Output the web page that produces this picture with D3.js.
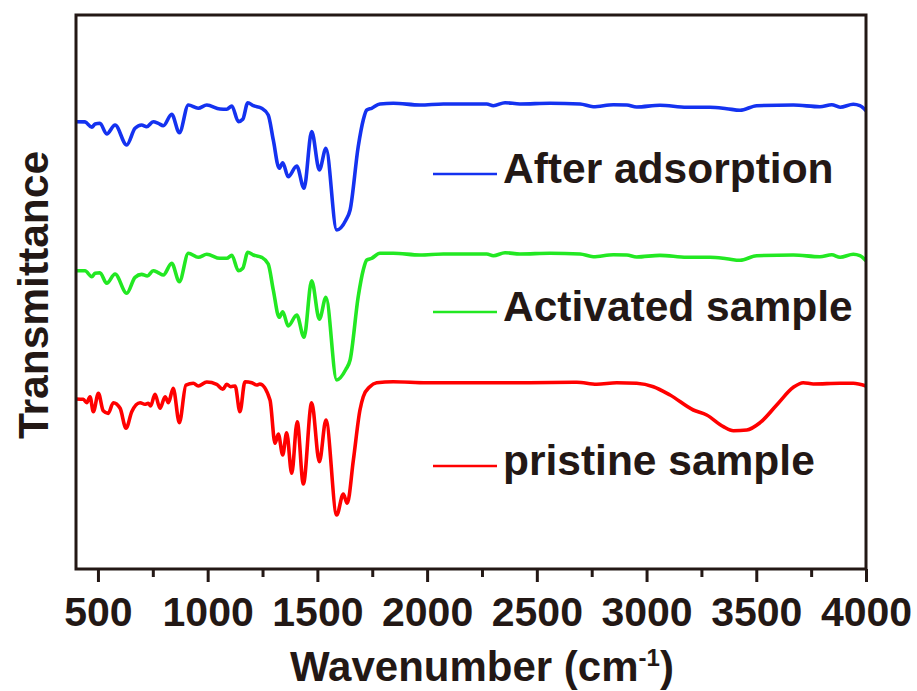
<html>
<meta name="viewport" content="width=device-width, initial-scale=1">
<head>
<script src="https://d3js.org/d3.v7.js"></script>
<style>
  body { margin: 0; background: #fff; }
  text { font-family: "Liberation Sans", Arial, sans-serif; font-weight: bold; fill: #231815; }
</style>
</head>
<body>
<svg width="917" height="691"></svg>
<script>
// wavenumber / transmittance pairs
var afterAdsorption = [
  [400,80.74],[441,80.7],[472,79.73],[487,80.32],[509,80.45],[540,78.52],[578,80.14],[631,76.53],
  [669,79.55],[699,80.14],[722,79.84],[752,80.74],[775,80.45],[798,80.02],[836,82.08],[871,78.75],
  [912,83.75],[957,83.16],[996,83.75],[1056,83.03],[1087,82.98],[1110,83.57],[1140,80.74],[1160,81.17],
  [1183,84.17],[1208,83.63],[1246,83.16],[1276,81.95],[1299,77.44],[1326,72.33],[1342,73.34],[1367,70.81],
  [1406,72.74],[1439,68.72],[1474,78.94],[1509,72.02],[1539,75.94],[1588,61.19],[1630,63.0],[1649,64.8],
  [1686,76.23],[1709,81.05],[1725,82.85],[1747,83.16],[1785,83.94],[1846,84.06],[1968,83.75],[2074,83.94],
  [2272,83.94],[2302,83.63],[2355,84.17],[2423,83.94],[2560,84.06],[2697,83.94],[2757,83.45],[2849,83.81],
  [2910,83.75],[2955,83.39],[3061,83.70],[3183,83.34],[3289,83.34],[3365,83.09],[3426,82.80],[3502,83.63],
  [3669,83.75],[3790,83.45],[3844,83.81],[3882,83.34],[3942,83.88],[3972,83.63],[4000,82.73]
];
var activated = [
  [400,53.84],[441,53.84],[472,52.76],[487,53.38],[509,53.48],[540,51.57],[578,53.25],[631,49.77],
  [669,52.65],[699,53.19],[725,52.89],[752,53.84],[775,53.48],[798,53.07],[836,55.18],[871,51.86],
  [912,56.99],[957,56.26],[996,56.81],[1056,56.08],[1087,56.08],[1110,56.62],[1140,53.84],[1160,54.28],
  [1183,57.17],[1208,56.68],[1246,56.26],[1276,55.05],[1299,50.36],[1326,45.43],[1342,46.44],[1367,43.86],
  [1406,45.85],[1439,41.82],[1474,52.04],[1509,45.07],[1539,49.04],[1588,34.12],[1630,36.05],[1649,37.73],
  [1686,49.15],[1709,53.97],[1725,55.78],[1747,56.08],[1785,56.99],[1846,56.99],[1968,56.68],[2074,56.86],
  [2272,56.86],[2302,56.55],[2355,57.09],[2423,56.86],[2560,56.99],[2697,56.86],[2757,56.37],[2849,56.73],
  [2910,56.68],[2955,56.32],[3061,56.62],[3183,56.26],[3289,56.26],[3365,56.01],[3426,55.72],[3502,56.55],
  [3669,56.68],[3790,56.37],[3844,56.73],[3882,56.26],[3942,56.81],[3972,56.55],[4000,55.65]
];
var pristine = [
  [400,30.69],[433,30.63],[449,30.02],[464,31.10],[479,28.39],[502,31.71],[524,28.57],[547,28.10],
  [570,30.02],[601,29.01],[628,25.40],[654,28.39],[692,30.02],[714,29.73],[729,29.91],[740,29.42],
  [760,31.53],[783,29.01],[806,31.10],[821,30.02],[843,32.62],[871,26.41],[901,33.21],[935,33.52],
  [957,33.03],[996,33.75],[1041,33.34],[1069,32.44],[1087,33.34],[1105,32.91],[1125,33.03],[1147,28.39],
  [1170,33.81],[1201,33.63],[1223,33.21],[1238,33.39],[1284,30.51],[1307,22.69],[1322,24.37],[1342,20.58],
  [1360,24.60],[1383,17.27],[1408,26.59],[1436,15.34],[1474,30.02],[1509,19.37],[1539,26.90],[1588,9.75],
  [1618,13.54],[1636,11.86],[1664,19.68],[1694,28.70],[1709,31.10],[1739,32.91],[1770,33.63],[1846,33.81],
  [1998,33.63],[2241,33.63],[2454,33.63],[2682,33.70],[2773,33.34],[2864,33.63],[2955,33.52],[3031,32.91],
  [3107,31.41],[3213,28.70],[3274,27.80],[3350,25.69],[3396,24.96],[3457,25.09],[3517,26.41],[3593,29.60],
  [3669,32.80],[3714,33.63],[3760,33.39],[3882,33.52],[3942,33.52],[4000,33.03]
];

var seriesNames = ["After adsorption", "Activated sample", "pristine sample"];
var seriesColors = ["#1432f0", "#22e822", "#ff0000"];
var legendY = [71.3, 46.4, 18.6];   // legend rows, in transmittance units
var majorTicks = [500, 1000, 1500, 2000, 2500, 3000, 3500, 4000];
var minorTicks = [750, 1250, 1750, 2250, 2750, 3250, 3750];

var svg = d3.select("svg");
var mLeft = 76, mTop = 15, w = 790, h = 554;
var g = svg.append("g").attr("transform", "translate(" + mLeft + "," + mTop + ")");

var x = d3.scaleLinear().domain([400, 4000]).range([0, w]);
var y = d3.scaleLinear().domain([0, 100]).range([h, 0]);

var line = d3.line()
  .x(function(d) { return x(d[0]); })
  .y(function(d) { return y(d[1]); })
  .curve(d3.curveMonotoneX);

var allSeries = [afterAdsorption, activated, pristine];
allSeries.forEach(function(s, i) {
  g.append("path")
    .datum(s)
    .attr("d", line)
    .attr("fill", "none")
    .attr("stroke", seriesColors[i])
    .attr("stroke-width", 3.6)
    .attr("stroke-linejoin", "round");
});

// legend
seriesNames.forEach(function(name, i) {
  g.append("line")
    .attr("x1", 357).attr("x2", 421)
    .attr("y1", y(legendY[i])).attr("y2", y(legendY[i]))
    .attr("stroke", seriesColors[i])
    .attr("stroke-width", 2.5);
  g.append("text")
    .attr("x", 427)
    .attr("y", y(legendY[i]) + 9)
    .style("font-size", "42.5px")
    .text(name);
});

// frame
g.append("rect")
  .attr("width", w).attr("height", h)
  .attr("fill", "none")
  .attr("stroke", "#231815")
  .attr("stroke-width", 3);

// bottom axis
var xAxis = g.append("g")
  .attr("transform", "translate(0," + h + ")")
  .call(d3.axisBottom(x).tickValues(majorTicks).tickSize(13).tickPadding(15).tickFormat(d3.format("d")));
xAxis.select(".domain").remove();
xAxis.selectAll("line").attr("stroke", "#231815").attr("stroke-width", 3);
xAxis.selectAll("text").style("font-size", "41px").attr("fill", "#231815");

var xMinor = g.append("g")
  .attr("transform", "translate(0," + h + ")")
  .call(d3.axisBottom(x).tickValues(minorTicks).tickSize(8).tickFormat(""));
xMinor.select(".domain").remove();
xMinor.selectAll("line").attr("stroke", "#231815").attr("stroke-width", 3);

// axis titles
var xt = svg.append("text")
  .attr("x", 290).attr("y", 681)
  .style("font-size", "42px");
xt.append("tspan").text("Wavenumber (cm");
xt.append("tspan").attr("dy", -15).style("font-size", "24px").text("-1");
xt.append("tspan").attr("dy", 15).text(")");

svg.append("text")
  .attr("transform", "translate(48,295) rotate(-90)")
  .attr("text-anchor", "middle")
  .style("font-size", "42.5px")
  .text("Transmittance");
</script>
</body>
</html>
